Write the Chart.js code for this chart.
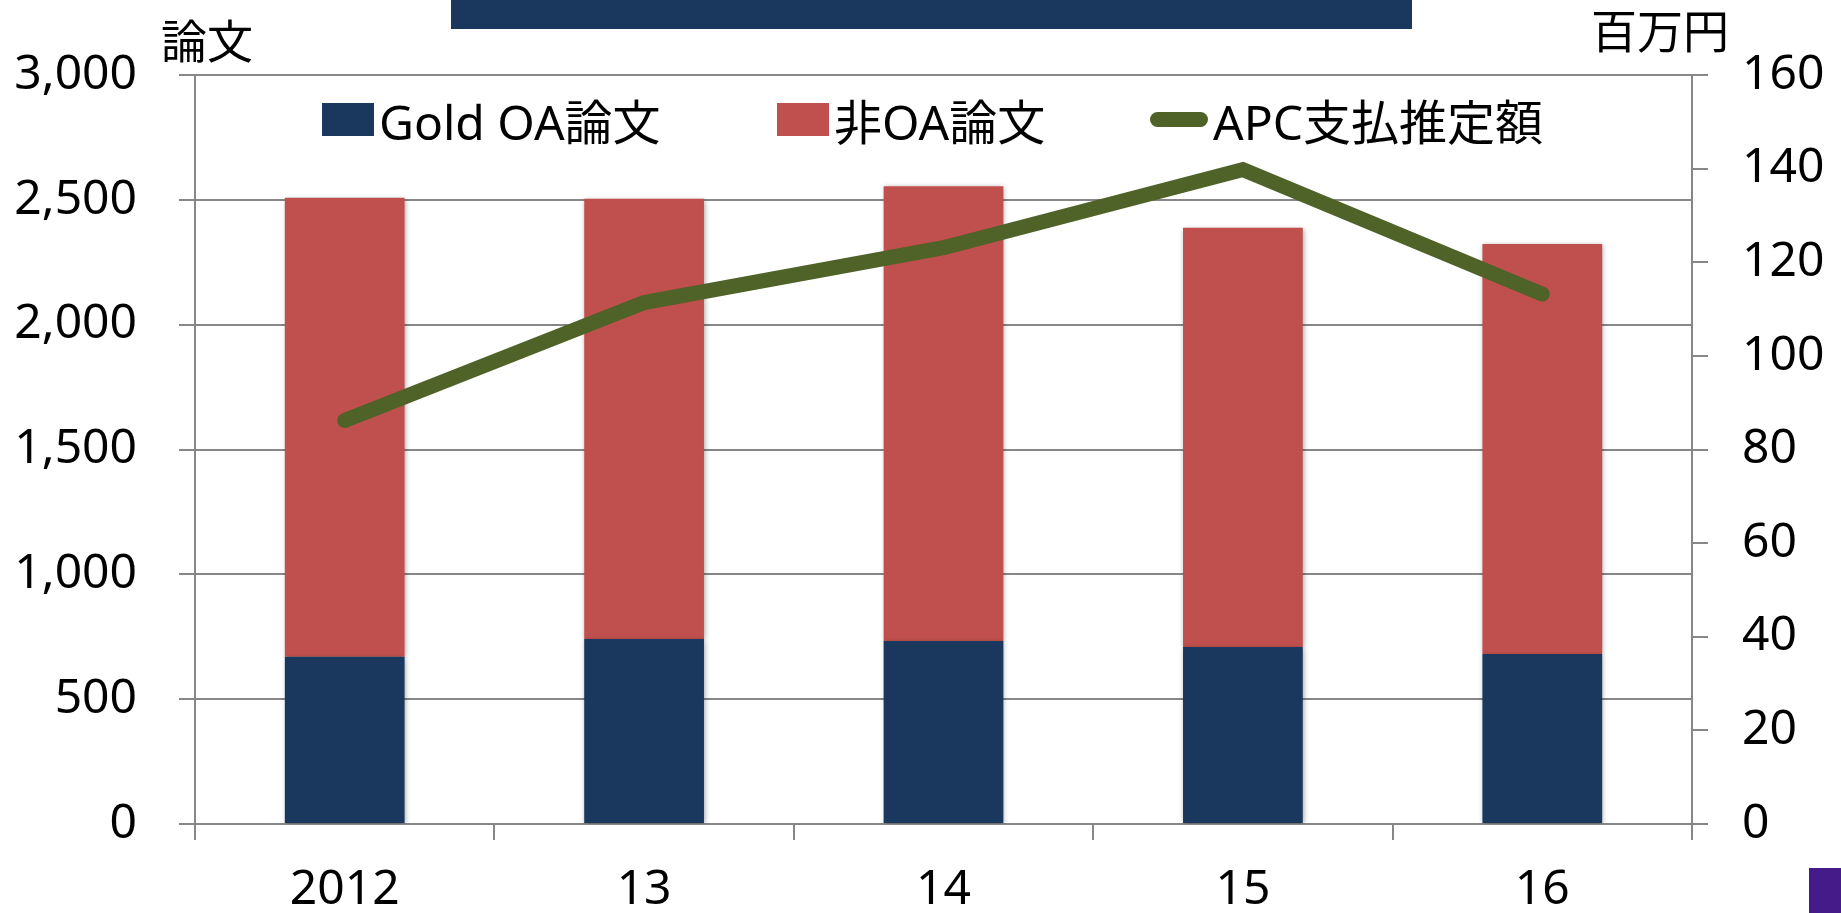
<!DOCTYPE html>
<html lang="ja">
<head>
<meta charset="utf-8">
<script src="https://cdn.jsdelivr.net/npm/chart.js@4/dist/chart.umd.min.js"></script>
<style>
  html, body { margin: 0; padding: 0; background: #fff; }
  #wrap { position: relative; width: 1841px; height: 913px; overflow: hidden; font-family: 'Noto Sans', 'Noto Sans CJK JP', sans-serif; }
  #chartBox { position: absolute; left: 0; top: 0; width: 1841px; height: 913px; }
  .unit { position: absolute; font-family: 'Noto Sans CJK JP', sans-serif; font-size: 46px; line-height: 46px; color: #000; white-space: nowrap; }
  #titleBar { position: absolute; left: 451px; top: 0; width: 961px; height: 29px; background: #1a375e; }
  #corner { position: absolute; left: 1809px; top: 868px; width: 32px; height: 45px; background: #451a89; }
  #legend { position: absolute; left: 0; top: 0; width: 1841px; height: 0; }
  .lg-item { position: absolute; top: 94px; height: 50px; display: flex; align-items: center; white-space: nowrap; font-family: 'Noto Sans', 'Noto Sans CJK JP', sans-serif; font-size: 48px; color: #000; }
  .lg-box { width: 52px; height: 33px; margin-right: 5px; flex: none; }
  .lg-line { width: 58px; height: 15px; border-radius: 8px; margin: 0 5px 0 2px; flex: none; }
</style>
</head>
<body>
<div id="wrap">
  <div id="chartBox"><canvas id="c"></canvas></div>
  <div id="titleBar"></div>
  <div class="unit" id="unitL" style="left:161px; top:15px;">論文</div>
  <div class="unit" id="unitR" style="left:1591px; top:5px;">百万円</div>
  <div id="legend"></div>
  <div id="corner"></div>
</div>
<script>
// ---- data ----
const categories = ['2012', '13', '14', '15', '16'];
const goldOA = [670, 741, 733, 709, 681];
const nonOA = [1838, 1763, 1821, 1679, 1642];
const apc = [86.2, 111.4, 123.1, 139.8, 113.2];
const seriesNames = ['Gold OA論文', '非OA論文', 'APC支払推定額'];
const leftMax = 3000, leftStep = 500;
const rightMax = 160, rightStep = 20;

// ---- styles ----
const NAVY = '#1a375e';
const RED = '#c0504d';
const OLIVE = '#4f6228';
const GRID = '#878787';
const FONT = "'Noto Sans', 'Noto Sans CJK JP', sans-serif";

const barShadow = {
  id: 'barShadow',
  beforeDatasetDraw(chart, args) {
    const ds = chart.data.datasets[args.index];
    if (ds.type === 'bar') {
      const ctx = chart.ctx;
      ctx.save();
      ctx.shadowColor = 'rgba(0,0,0,0.35)';
      ctx.shadowBlur = 5;
      ctx.shadowOffsetX = 1;
      ctx.shadowOffsetY = 1;
    }
  },
  afterDatasetDraw(chart, args) {
    const ds = chart.data.datasets[args.index];
    if (ds.type === 'bar') {
      chart.ctx.restore();
    }
  }
};

const chart = new Chart(document.getElementById('c'), {
  type: 'bar',
  data: {
    labels: categories,
    datasets: [
      { type: 'bar', label: seriesNames[0], data: goldOA, backgroundColor: NAVY, yAxisID: 'y', order: 2,
        categoryPercentage: 0.8, barPercentage: 0.5 },
      { type: 'bar', label: seriesNames[1], data: nonOA, backgroundColor: RED, yAxisID: 'y', order: 2,
        categoryPercentage: 0.8, barPercentage: 0.5 },
      { type: 'line', label: seriesNames[2], data: apc, borderColor: OLIVE, backgroundColor: OLIVE,
        borderWidth: 15, borderCapStyle: 'round', borderJoinStyle: 'miter', pointRadius: 0, pointHoverRadius: 0,
        tension: 0, fill: false, yAxisID: 'y2', order: 1 }
    ]
  },
  options: {
    responsive: true,
    maintainAspectRatio: false,
    animation: false,
    layout: { padding: { top: 75, left: 0, right: 0, bottom: 0 } },
    plugins: { legend: { display: false }, tooltip: { enabled: false }, title: { display: false } },
    scales: {
      x: {
        stacked: true,
        grid: { offset: true, drawOnChartArea: false, drawTicks: true, tickLength: 16, color: GRID, lineWidth: 2 },
        border: { display: true, color: GRID, width: 2 },
        ticks: { color: '#000', font: { family: FONT, size: 48 }, padding: 22, maxRotation: 0 },
        afterFit: s => { s.height = 89; }
      },
      y: {
        stacked: true,
        position: 'left',
        min: 0, max: leftMax,
        grid: { drawTicks: true, tickLength: 16, color: GRID, lineWidth: 2 },
        border: { display: true, color: GRID, width: 2 },
        ticks: { stepSize: leftStep, color: '#000', font: { family: FONT, size: 48 }, padding: 42,
          callback: v => v.toLocaleString('en-US') },
        afterFit: s => { s.width = 195; }
      },
      y2: {
        position: 'right',
        min: 0, max: rightMax,
        grid: { drawOnChartArea: false, drawTicks: true, tickLength: 16, color: GRID, lineWidth: 2 },
        border: { display: true, color: GRID, width: 2 },
        ticks: { stepSize: rightStep, color: '#000', font: { family: FONT, size: 48 }, padding: 34 },
        afterFit: s => { s.width = 149; }
      }
    }
  },
  plugins: [barShadow]
});

// ---- HTML legend built from the chart's own legend items (in dataset order) ----
(function buildLegend() {
  const items = Chart.defaults.plugins.legend.labels.generateLabels(chart)
    .sort((a, b) => a.datasetIndex - b.datasetIndex);
  const lefts = [322, 777, 1148];
  const box = document.getElementById('legend');
  items.forEach((it, i) => {
    const ds = chart.data.datasets[it.datasetIndex];
    const el = document.createElement('div');
    el.className = 'lg-item';
    el.style.left = lefts[i] + 'px';
    const mark = document.createElement('span');
    if (ds.type === 'line') {
      mark.className = 'lg-line';
      mark.style.background = ds.borderColor;
    } else {
      mark.className = 'lg-box';
      mark.style.background = ds.backgroundColor;
    }
    const txt = document.createElement('span');
    txt.textContent = it.text;
    el.appendChild(mark);
    el.appendChild(txt);
    box.appendChild(el);
  });
})();
</script>
</body>
</html>
